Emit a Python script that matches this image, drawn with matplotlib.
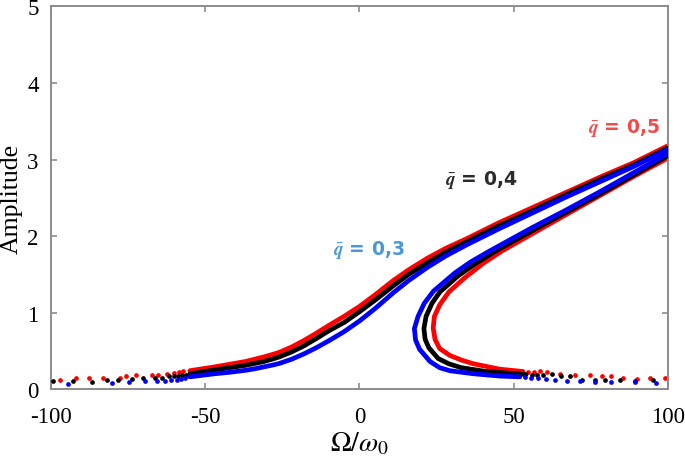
import matplotlib
matplotlib.use("Agg")
import matplotlib.pyplot as plt

plt.rcParams['font.family'] = ['Liberation Serif', 'DejaVu Serif']
plt.rcParams['mathtext.fontset'] = 'stix'

# ---------------- data ----------------
q_labels = [r"$\bar{\mathbfit{q}}$ = 0,3", r"$\bar{\mathbfit{q}}$ = 0,4", r"$\bar{\mathbfit{q}}$ = 0,5"]

# upper (resonant) branch
upper_omega = [-55, -47, -42, -37, -34, -31, -28, -26, -22, -18, -14, -10, -5, 0, 5, 11, 16, 22, 28, 35, 45, 56, 67, 78, 89, 100]
upper_amp_q03 = [0.16, 0.20, 0.22, 0.245, 0.265, 0.29, 0.315, 0.335, 0.39, 0.46, 0.54, 0.63, 0.75, 0.89, 1.05, 1.26, 1.42, 1.59, 1.74, 1.89, 2.09, 2.30, 2.51, 2.71, 2.91, 3.13]
upper_amp_q04 = [0.20, 0.25, 0.28, 0.31, 0.335, 0.36, 0.395, 0.42, 0.485, 0.565, 0.66, 0.76, 0.87, 1.01, 1.16, 1.35, 1.50, 1.65, 1.79, 1.93, 2.13, 2.33, 2.54, 2.74, 2.93, 3.15]
upper_amp_q05 = [0.24, 0.29, 0.325, 0.36, 0.39, 0.42, 0.455, 0.48, 0.55, 0.635, 0.73, 0.83, 0.95, 1.08, 1.23, 1.42, 1.56, 1.71, 1.84, 1.97, 2.17, 2.37, 2.57, 2.77, 2.96, 3.18]

# middle + lower branch (from Omega=100 back through the fold)
mid_omega_q03 = [100, 89, 78, 67, 56, 42, 36, 31, 24, 21, 19, 17.8, 18.2, 19.5, 22.9, 26, 29.3, 37, 45.5, 52]
mid_amp_q03 = [3.08, 2.83, 2.58, 2.34, 2.11, 1.80, 1.66, 1.52, 1.28, 1.12, 0.95, 0.79, 0.64, 0.52, 0.36, 0.28, 0.24, 0.20, 0.17, 0.16]
mid_omega_q04 = [100, 89, 78, 67, 56, 44, 38, 32, 26.1, 23.5, 21.6, 20.9, 21.3, 22.5, 25.5, 29, 33, 41, 51, 54]
mid_amp_q04 = [3.05, 2.80, 2.55, 2.31, 2.07, 1.80, 1.65, 1.48, 1.27, 1.12, 0.95, 0.79, 0.65, 0.54, 0.40, 0.33, 0.28, 0.23, 0.20, 0.19]
mid_omega_q05 = [100, 89, 78, 67, 56, 46, 40, 34, 29, 26, 24.3, 23.9, 24.5, 26, 29.3, 33, 37, 45.5, 53]
mid_amp_q05 = [3.02, 2.78, 2.53, 2.28, 2.03, 1.80, 1.64, 1.45, 1.27, 1.10, 0.95, 0.80, 0.65, 0.53, 0.44, 0.38, 0.33, 0.26, 0.23]

# sparse sample dots of the low-amplitude tails
left_tail_omega_q03 = [-94.4, -80.3, -74.6, -69.5, -65.5, -63.0, -61.0, -59.3, -57.8, -56.5]
left_tail_amp_q03 = [0.065, 0.08, 0.09, 0.10, 0.11, 0.11, 0.12, 0.12, 0.13, 0.14]
left_tail_omega_q04 = [-99.4, -93, -86.8, -81.9, -78.2, -73.8, -70.3, -66.3, -64.1, -61.7, -60.0, -58.7, -57.4, -56.2]
left_tail_amp_q04 = [0.10, 0.11, 0.09, 0.12, 0.12, 0.13, 0.14, 0.15, 0.15, 0.17, 0.17, 0.17, 0.18, 0.19]
left_tail_omega_q05 = [-97.1, -91.9, -87.6, -83.2, -77.6, -75.7, -72.4, -67.4, -65.2, -62.5, -60.1, -58.5, -57.2]
left_tail_amp_q05 = [0.12, 0.14, 0.14, 0.15, 0.15, 0.17, 0.18, 0.18, 0.19, 0.20, 0.21, 0.22, 0.23]

right_tail_omega_q03 = [53.8, 55.6, 58, 60.5, 63.4, 67.2, 71.5, 76.3, 81.7, 89.3, 96.3]
right_tail_amp_q03 = [0.155, 0.15, 0.14, 0.13, 0.12, 0.11, 0.11, 0.09, 0.09, 0.09, 0.075]
right_tail_omega_q04 = [55.8, 57.6, 59.5, 62.3, 65.5, 68.2, 72.0, 76.3, 79.6, 84.4, 89.3, 95.2]
right_tail_amp_q04 = [0.185, 0.18, 0.19, 0.20, 0.17, 0.17, 0.12, 0.12, 0.12, 0.12, 0.10, 0.12]
right_tail_omega_q05 = [54.8, 56.6, 58.5, 60.7, 65.0, 69.9, 74.7, 78.5, 81.7, 85.5, 89.9, 94.2, 99.0]
right_tail_amp_q05 = [0.225, 0.22, 0.23, 0.22, 0.20, 0.18, 0.18, 0.17, 0.17, 0.15, 0.13, 0.14, 0.14]

x_ticks = [-100, -50, 0, 50, 100]
y_ticks = [0, 1, 2, 3, 4, 5]

# ---------------- figure ----------------
fig = plt.figure(figsize=(6.85, 4.6), dpi=100)
ax = fig.add_axes([0.0745, 0.152, 0.9005, 0.8317])

series = [
    ("#ff0000", upper_amp_q05, mid_omega_q05, mid_amp_q05,
     left_tail_omega_q05, left_tail_amp_q05, right_tail_omega_q05, right_tail_amp_q05),
    ("#000000", upper_amp_q04, mid_omega_q04, mid_amp_q04,
     left_tail_omega_q04, left_tail_amp_q04, right_tail_omega_q04, right_tail_amp_q04),
    ("#0000ff", upper_amp_q03, mid_omega_q03, mid_amp_q03,
     left_tail_omega_q03, left_tail_amp_q03, right_tail_omega_q03, right_tail_amp_q03),
]

for z, (col, up, mo, ma, lto, lta, rto, rta) in enumerate(series):
    ax.plot(upper_omega, up, color=col, lw=3.4, solid_capstyle='round',
            solid_joinstyle='round', zorder=2 + z)
    ax.plot(mo, ma, color=col, lw=3.4, solid_capstyle='round',
            solid_joinstyle='round', zorder=2 + z)
    ax.plot(lto, lta, 'o', color=col, ms=3.4, mew=0, zorder=2 + z)
    ax.plot(rto, rta, 'o', color=col, ms=3.4, mew=0, zorder=2 + z)

ax.set_xlim(-100, 100)
ax.set_ylim(0, 5)
ax.set_xticks(x_ticks)
ax.set_yticks(y_ticks)
ax.set_xticklabels([str(v) for v in x_ticks])
ax.set_yticklabels([str(v) for v in y_ticks])

frame_col = "#8c8c8c"
for sp in ax.spines.values():
    sp.set_color(frame_col)
    sp.set_linewidth(1.4)
ax.tick_params(direction='in', length=4, width=1.2, color=frame_col,
               top=True, right=True, labelsize=16.5, labelcolor='black')
ax.tick_params(axis='x', pad=12)
ax.tick_params(axis='y', pad=9)

ax.set_xlabel(r"$\Omega/\omega_0$", fontsize=20, labelpad=2)
ax.set_ylabel("Amplitude", fontsize=18.5, labelpad=3)

lab_kw = dict(fontsize=13.5, fontweight='bold', family='DejaVu Sans', va='center')
ax.text(-8.6, 1.83, q_labels[0], color="#4a98d4", **lab_kw)
ax.text(27.7, 2.75, q_labels[1], color="#2b2b2b", **lab_kw)
ax.text(74.0, 3.43, q_labels[2], color="#f24b4b", **lab_kw)

fig.savefig("out.png", dpi=100)
